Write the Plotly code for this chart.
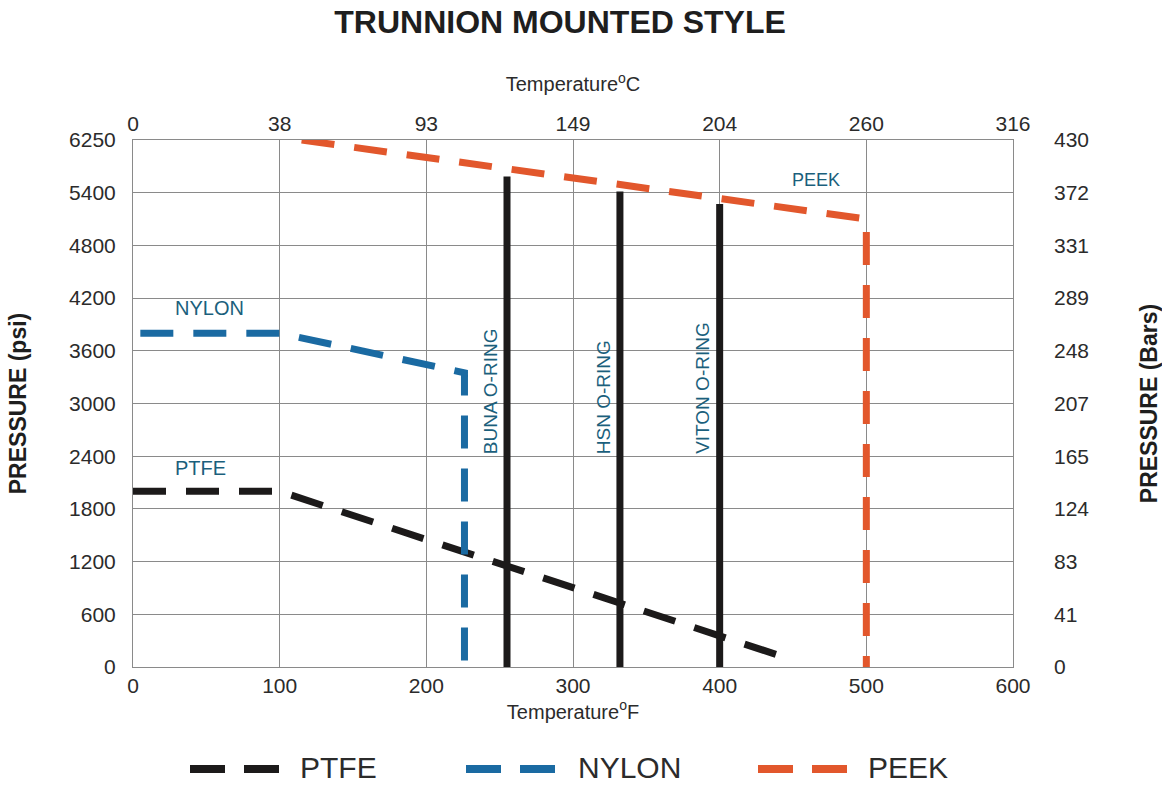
import plotly.graph_objects as go

# ---- data ---------------------------------------------------------------
# Temperatures in °F, pressures in psi
ptfe_temp = [0, 100, 450]
ptfe_psi = [2000, 2000, 80]

nylon_temp = [5, 100, 226, 226]
nylon_psi = [3800, 3800, 3350, 0]

peek_temp = [115, 500, 500]
peek_psi = [6250, 5100, 0]

oring_names = ["BUNA O-RING", "HSN O-RING", "VITON O-RING"]
oring_temp = [255, 332, 400]
oring_top_psi = [5660, 5420, 5270]

psi_ticks = [0, 600, 1200, 1800, 2400, 3000, 3600, 4200, 4800, 5400, 6250]
bar_ticks = [0, 41, 83, 124, 165, 207, 248, 289, 331, 372, 430]
f_ticks = [0, 100, 200, 300, 400, 500, 600]
c_ticks = [0, 38, 93, 149, 204, 260, 316]

# ---- style --------------------------------------------------------------
C_PTFE = "#1c1a1a"
C_NYLON = "#1a6aa2"
C_PEEK = "#e2572c"
C_LABEL = "#1b5f7c"
C_TEXT = "#2b2b2b"
FONT = "Liberation Sans, Arial, sans-serif"
DASH = "33px,20px"
LW = 7

W, H = 1162, 785
ML, MR, MT, MB = 133, 149, 140, 118


# The pressure scale puts its ticks at equal spacing; the last band
# (5400 -> 6250) is squeezed into one regular 600-psi step.
def psi_pos(v):
    if v <= 5400:
        return v
    return 5400 + (v - 5400) * 600 / 850


def to_pos(values):
    return [psi_pos(v) for v in values]


tick_pos = to_pos(psi_ticks)

fig = go.Figure()

for name, xs, ys, col in [
    ("PTFE", ptfe_temp, ptfe_psi, C_PTFE),
    ("NYLON", nylon_temp, nylon_psi, C_NYLON),
    ("PEEK", peek_temp, peek_psi, C_PEEK),
]:
    fig.add_trace(go.Scatter(
        x=xs, y=to_pos(ys), mode="lines", name=name,
        line=dict(color=col, width=LW, dash=DASH),
        showlegend=False, hoverinfo="skip",
    ))

# O-ring limits: solid vertical bars
for name, t, top in zip(oring_names, oring_temp, oring_top_psi):
    fig.add_trace(go.Scatter(
        x=[t, t], y=[0, psi_pos(top)], mode="lines", name=name,
        line=dict(color=C_PTFE, width=LW),
        showlegend=False, hoverinfo="skip",
    ))
    fig.add_annotation(
        x=t, y=psi_pos(2400), xref="x", yref="y",
        text=name, textangle=-90, showarrow=False,
        xshift=-17, yanchor="bottom",
        font=dict(family=FONT, size=19, color=C_LABEL),
    )

# Helper trace so the secondary axes are drawn
fig.add_trace(go.Scatter(x=[0], y=[0], xaxis="x2", yaxis="y2", mode="markers",
                         marker=dict(opacity=0), showlegend=False, hoverinfo="skip"))

# Series labels inside the plot
fig.add_annotation(x=52, y=psi_pos(4200), text="NYLON", showarrow=False, yshift=-10,
                   font=dict(family=FONT, size=20, color=C_LABEL))
fig.add_annotation(x=46, y=psi_pos(2400), text="PTFE", showarrow=False, yshift=-12,
                   font=dict(family=FONT, size=20, color=C_LABEL))
fig.add_annotation(x=466, y=psi_pos(5400), text="PEEK", showarrow=False, yshift=13,
                   font=dict(family=FONT, size=18, color=C_LABEL))

# Legend drawn below the plot
PW = W - ML - MR
PH = H - MT - MB


def px_x(p):
    return (p - ML) / PW


def px_y(p):
    return (H - MB - p) / PH


legend_items = [("PTFE", C_PTFE, 190, 298), ("NYLON", C_NYLON, 466, 576), ("PEEK", C_PEEK, 758, 866)]
for label, col, x0, tx in legend_items:
    fig.add_shape(type="line", xref="paper", yref="paper",
                  x0=px_x(x0), x1=px_x(x0 + 89), y0=px_y(769), y1=px_y(769),
                  line=dict(color=col, width=8, dash="35px,19px"))
    fig.add_annotation(xref="paper", yref="paper", x=px_x(tx), y=px_y(767),
                       xanchor="left", yanchor="middle", showarrow=False, text=label,
                       font=dict(family=FONT, size=30, color=C_TEXT))

grid = dict(showgrid=True, gridcolor="#8a8a8a", gridwidth=1, zeroline=False,
            showline=True, linecolor="#8a8a8a", linewidth=1, ticks="")
tickfont = dict(family=FONT, size=21, color=C_TEXT)

fig.update_layout(
    width=W, height=H,
    margin=dict(l=ML, r=MR, t=MT, b=MB),
    paper_bgcolor="white", plot_bgcolor="white",
    title=dict(text="<b>TRUNNION MOUNTED STYLE</b>", x=0.482, xanchor="center",
               y=1 - 22 / H, yanchor="middle",
               font=dict(family=FONT, size=32, color="#1e1e1e")),
    xaxis=dict(range=[0, 600], tickvals=f_ticks, ticktext=[str(v) for v in f_ticks],
               mirror=True, tickfont=tickfont, automargin=False, **grid,
               title=dict(text="Temperature<sup>o</sup>F", standoff=0,
                          font=dict(family=FONT, size=20, color=C_TEXT))),
    xaxis2=dict(range=[0, 600], overlaying="x", side="top", tickvals=f_ticks,
                ticktext=[str(v) for v in c_ticks], showgrid=False, zeroline=False,
                ticks="", tickfont=tickfont, ticklabelstandoff=4, automargin=False,
                title=dict(text="Temperature<sup>o</sup>C", standoff=14,
                           font=dict(family=FONT, size=20, color=C_TEXT))),
    yaxis=dict(range=[0, 6000], tickvals=tick_pos, ticktext=[str(v) for v in psi_ticks],
               mirror=True, tickfont=tickfont, ticklabelstandoff=12, automargin=False, **grid,
               title=dict(text="<b>PRESSURE (psi)</b>", standoff=36,
                          font=dict(family=FONT, size=23, color="#1e1e1e"))),
    yaxis2=dict(range=[0, 6000], overlaying="y", side="right", tickvals=tick_pos,
                ticktext=[str(v) for v in bar_ticks], showgrid=False, zeroline=False,
                ticks="", tickfont=tickfont, ticklabelstandoff=40, automargin=False,
                title=dict(text="<b>PRESSURE (Bars)</b>", standoff=56,
                           font=dict(family=FONT, size=23, color="#1e1e1e"))),
)

fig.write_html("out.html")
